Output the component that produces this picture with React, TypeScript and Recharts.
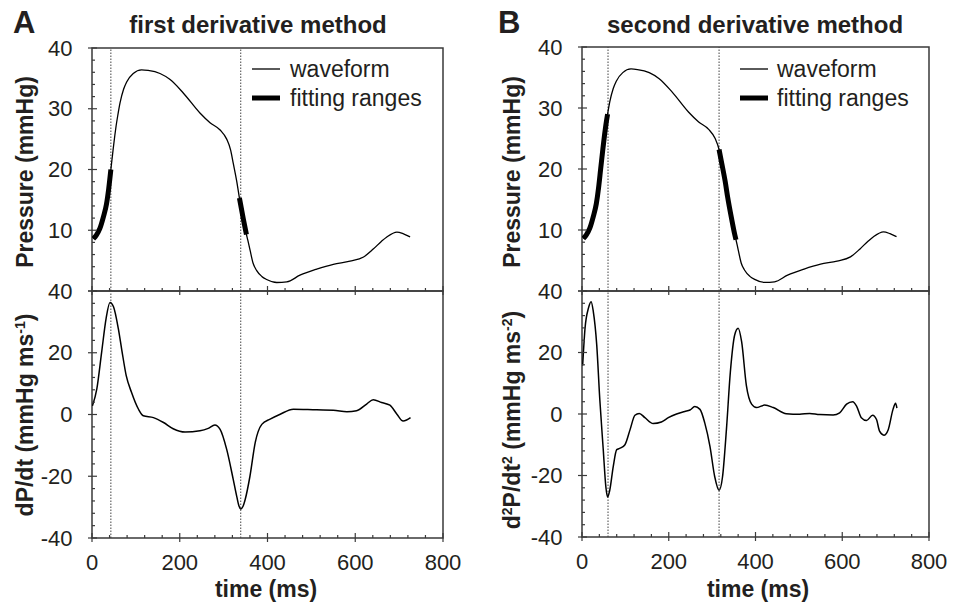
import React from "react";
import { LineChart, Line, XAxis, YAxis, ReferenceLine, ReferenceArea } from "recharts";

const FONT = "'Liberation Sans', Arial, Helvetica, sans-serif";
const INK = "#231f20";
const FRAME = "#3a3a3a";

// pressure waveform (ms, mmHg) - same beat in both panels
const waveT = [3, 10, 18, 26, 33, 38, 43, 48, 52, 55, 59, 64, 72, 79, 94, 113, 128, 155, 178, 208, 246, 269, 292, 307, 316, 322, 330, 336, 345, 352, 355, 360, 367, 375, 387, 398, 421, 444, 474, 512, 550, 588, 619, 641, 660, 672, 695, 710, 725];
const waveP = [8.6, 9.2, 10.3, 12.2, 14.3, 16.8, 20.0, 23.2, 25.6, 27.2, 29.0, 31.0, 33.2, 34.4, 35.8, 36.4, 36.3, 35.8, 34.8, 32.6, 29.3, 27.7, 26.5, 25.0, 23.2, 21.0, 18.0, 15.3, 11.8, 9.3, 8.4, 6.8, 4.6, 3.4, 2.4, 1.9, 1.4, 1.5, 2.6, 3.6, 4.4, 4.9, 5.6, 6.9, 8.2, 8.9, 9.7, 9.4, 8.9];

// first derivative
const d1T = [1, 11, 22, 32, 41, 49, 60, 68, 78, 90, 106, 117, 140, 163, 185, 212, 246, 265, 280, 292, 307, 322, 330, 335, 339, 344, 349, 360, 372, 387, 406, 429, 459, 512, 550, 581, 603, 626, 641, 660, 679, 695, 709, 717, 726];
const d1V = [2.8, 8.3, 20.2, 31, 36.3, 34.9, 27.8, 20.8, 12.6, 7.2, 1.7, -0.4, -1.0, -2.6, -4.6, -5.7, -5.3, -4.5, -3.4, -4.8, -11.3, -21.1, -26.6, -29.6, -30.6, -29.8, -27.6, -20.0, -9.1, -3.2, -1.5, 0.1, 1.7, 1.5, 1.4, 0.9, 1.2, 3.4, 4.8, 3.9, 3.0, 0.1, -2.1, -1.8, -1.0];

// second derivative
const d2T = [1.5, 7, 15, 21, 26, 34, 41, 49, 55, 59, 64, 72, 80, 88, 99, 111, 122, 132, 145, 164, 183, 199, 218, 237, 249, 260, 272, 283, 295, 306, 316, 324, 333, 342, 352, 360, 368, 379, 391, 402, 421, 441, 471, 502, 525, 548, 579, 594, 610, 624, 633, 644, 656, 670, 679, 686, 696, 706, 717, 723, 726];
const d2V = [15.8, 27.9, 34.5, 36.5, 33.4, 22.4, 4.8, -11.6, -23.7, -27, -24.8, -17.1, -11.6, -11.1, -10, -5, -0.4, 0.2, -1.2, -3.1, -2.6, -1.2, 0, 0.8, 1.3, 2.4, 1.5, -2.9, -10.5, -20.4, -24.8, -20.4, -5, 13.6, 25.7, 27.9, 23.5, 9.2, 3.2, 2.1, 2.9, 2.1, 0.1, -0.1, 0.2, -0.2, -0.3, 0.4, 3.2, 4.0, 2.6, -1.2, -2.1, -0.4, -1.8, -5.6, -6.9, -5.1, 1.5, 3.5, 1.9];

const fitRangesA = [[3, 43], [336, 352]];
const fitRangesB = [[3, 59], [316, 355]];
const markersA = [43, 339];
const markersB = [60, 316];

const timeTicks = [0, 40, 80, 120, 160, 200, 240, 280, 320, 360, 400, 440, 480, 520, 560, 600, 640, 680, 720, 760, 800];
const timeLabels = [0, 200, 400, 600, 800];
const pressureTicks = [0, 2, 4, 6, 8, 10, 12, 14, 16, 18, 20, 22, 24, 26, 28, 30, 32, 34, 36, 38, 40];
const pressureMajor = [0, 10, 20, 30, 40];
const pressureLabels = [10, 20, 30, 40];
const derivTicks = [-40, -36, -32, -28, -24, -20, -16, -12, -8, -4, 0, 4, 8, 12, 16, 20, 24, 28, 32, 36, 40];
const derivLabels = [-40, -20, 0, 20, 40];

type Pt = { t: number; v: number };
const toPoints = (ts: number[], vs: number[]): Pt[] => ts.map((t, i) => ({ t, v: vs[i] }));
const wave = toPoints(waveT, waveP);
const d1 = toPoints(d1T, d1V);
const d2 = toPoints(d2T, d2V);
const inRange = (pts: Pt[], r: number[]) => pts.filter((p) => p.t >= r[0] && p.t <= r[1]);

type Series = { data: Pt[]; width: number };

function Plot(props: {
  left: number; top: number; width: number; height: number;
  yDomain: number[]; yTicks: number[]; yMajor: number[]; yLabels: number[];
  showTime: boolean; series: Series[]; markers: number[];
}) {
  const { left, top, width, height, yDomain, yTicks, yMajor, yLabels, showTime, series, markers } = props;
  const YW = 80, PT = 20, PR = 40, XH = showTime ? 50 : 10;

  const xTick = (p: any) => {
    const v = p.payload.value;
    const major = timeLabels.includes(v);
    return (
      <g>
        <line x1={p.x} x2={p.x} y1={p.y + (major ? 4 : 0)} y2={p.y - (major ? 5 : 3)} stroke={FRAME} strokeWidth={1.2} />
        {showTime && major && (
          <text x={p.x} y={p.y + 24} dy="0.35em" textAnchor="middle" fontSize={22} fontFamily={FONT} fill={INK}>{v}</text>
        )}
      </g>
    );
  };
  const yTick = (p: any) => {
    const v = p.payload.value;
    const major = yMajor.includes(v);
    return (
      <g>
        <line y1={p.y} y2={p.y} x1={p.x - (major ? 4 : 0)} x2={p.x + (major ? 5 : 3)} stroke={FRAME} strokeWidth={1.2} />
        {yLabels.includes(v) && (
          <text x={p.x - 19.5} y={p.y} dy="0.35em" textAnchor="end" fontSize={22} fontFamily={FONT} fill={INK}>{v}</text>
        )}
      </g>
    );
  };

  return (
    <div style={{ position: "absolute", left: left - YW, top: top - PT }}>
      <LineChart width={YW + width + PR} height={PT + height + XH} margin={{ top: PT, right: PR, bottom: 0, left: 0 }}>
        <XAxis dataKey="t" type="number" domain={[0, 800]} ticks={timeTicks} interval={0} allowDataOverflow
          height={XH} tickSize={0} tickMargin={0} tickLine={false} axisLine={false} tick={xTick} />
        <YAxis type="number" domain={yDomain} ticks={yTicks} interval={0} allowDataOverflow
          width={YW} tickSize={0} tickMargin={0} tickLine={false} axisLine={false} tick={yTick} />
        <ReferenceArea x1={0} x2={800} y1={yDomain[0]} y2={yDomain[1]} fill="none" stroke={FRAME} strokeWidth={1.5} />
        {markers.map((m) => (
          <ReferenceLine key={m} x={m} stroke="#444" strokeWidth={1} strokeDasharray="1.5 1.5" />
        ))}
        {series.map((s, i) => (
          <Line key={i} data={s.data} dataKey="v" type="monotone" dot={false} stroke="#000"
            strokeWidth={s.width} isAnimationActive={false} />
        ))}
      </LineChart>
    </div>
  );
}

function Sup({ children }: { children: string }) {
  return (
    <>
      <tspan dy={-8} fontSize={14}>{children}</tspan>
      <tspan dy={8}>)</tspan>
    </>
  );
}

export default function App() {
  const A = { l: 92, r: 443, t: 48, m: 291, b: 538 };
  const B = { l: 582, r: 929, t: 47, m: 291, b: 537 };
  const thickA = fitRangesA.map((r) => ({ data: inRange(wave, r), width: 5 }));
  const thickB = fitRangesB.map((r) => ({ data: inRange(wave, r), width: 5 }));
  const txt = { fontFamily: FONT, fill: INK } as const;

  return (
    <div style={{ position: "absolute", left: 0, top: 0, width: 964, height: 602, background: "#fff", overflow: "hidden" }}>
      <Plot left={A.l} top={A.t} width={A.r - A.l} height={A.m - A.t} yDomain={[0, 40]} yTicks={pressureTicks}
        yMajor={pressureMajor} yLabels={pressureLabels} showTime={false} markers={markersA}
        series={[{ data: wave, width: 1.3 }, ...thickA]} />
      <Plot left={A.l} top={A.m} width={A.r - A.l} height={A.b - A.m} yDomain={[-40, 40]} yTicks={derivTicks}
        yMajor={derivLabels} yLabels={derivLabels} showTime={true} markers={markersA}
        series={[{ data: d1, width: 1.5 }]} />
      <Plot left={B.l} top={B.t} width={B.r - B.l} height={B.m - B.t} yDomain={[0, 40]} yTicks={pressureTicks}
        yMajor={pressureMajor} yLabels={pressureLabels} showTime={false} markers={markersB}
        series={[{ data: wave, width: 1.3 }, ...thickB]} />
      <Plot left={B.l} top={B.m} width={B.r - B.l} height={B.b - B.m} yDomain={[-40, 40]} yTicks={derivTicks}
        yMajor={derivLabels} yLabels={derivLabels} showTime={true} markers={markersB}
        series={[{ data: d2, width: 1.5 }]} />

      <svg width={964} height={602} style={{ position: "absolute", left: 0, top: 0, pointerEvents: "none" }}>
        <text x={13} y={33} fontSize={31} fontWeight="bold" {...txt}>A</text>
        <text x={498} y={33} fontSize={31} fontWeight="bold" {...txt}>B</text>
        <text x={258} y={33} fontSize={24} fontWeight="bold" textAnchor="middle" {...txt}>first derivative method</text>
        <text x={755} y={33} fontSize={24} fontWeight="bold" textAnchor="middle" {...txt}>second derivative method</text>

        <text transform="translate(33,172) rotate(-90)" fontSize={23} fontWeight="bold" textAnchor="middle" {...txt}>Pressure (mmHg)</text>
        <text transform="translate(33,415) rotate(-90)" fontSize={23} fontWeight="bold" textAnchor="middle" {...txt}>
          dP/dt (mmHg ms<Sup>-1</Sup>
        </text>
        <text transform="translate(520,172) rotate(-90)" fontSize={23} fontWeight="bold" textAnchor="middle" {...txt}>Pressure (mmHg)</text>
        <text transform="translate(520,420) rotate(-90)" fontSize={23} fontWeight="bold" textAnchor="middle" {...txt}>
          d<tspan dy={-8} fontSize={14}>2</tspan><tspan dy={8}>P/dt</tspan><tspan dy={-8} fontSize={14}>2</tspan><tspan dy={8}> (mmHg ms</tspan><Sup>-2</Sup>
        </text>

        <text x={266} y={597} fontSize={23} fontWeight="bold" textAnchor="middle" {...txt}>time (ms)</text>
        <text x={758} y={597} fontSize={23} fontWeight="bold" textAnchor="middle" {...txt}>time (ms)</text>

        <line x1={252} x2={280} y1={69} y2={69} stroke="#000" strokeWidth={1.3} />
        <text x={290} y={77} fontSize={23} {...txt}>waveform</text>
        <line x1={252} x2={280} y1={98} y2={98} stroke="#000" strokeWidth={5} />
        <text x={290} y={106} fontSize={23} {...txt}>fitting ranges</text>

        <line x1={740} x2={768} y1={69} y2={69} stroke="#000" strokeWidth={1.3} />
        <text x={777} y={77} fontSize={23} {...txt}>waveform</text>
        <line x1={740} x2={768} y1={98} y2={98} stroke="#000" strokeWidth={5} />
        <text x={777} y={106} fontSize={23} {...txt}>fitting ranges</text>
      </svg>
    </div>
  );
}
